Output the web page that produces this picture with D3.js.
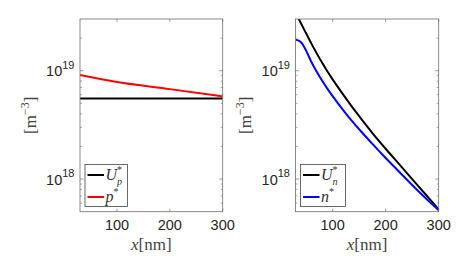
<!DOCTYPE html>
<html>
<head>
<meta charset="utf-8">
<script src="https://cdn.jsdelivr.net/npm/d3@7"></script>
<style>
  body { margin: 0; background: #fff; }
</style>
</head>
<body>
<svg id="chart" width="467" height="256"></svg>
<script>

// x positions (nm) and log10 concentrations
var xLeft = [30, 100, 200, 300];
var upLeft = [18.744, 18.744, 18.744, 18.744];
var pLeft = [18.96, 18.895, 18.83, 18.763];

var xRight = [30, 40, 50, 60, 70, 80, 90, 100, 125, 150, 175, 200, 225, 250, 275, 300];
var unRight = [19.54, 19.44, 19.345, 19.25, 19.16, 19.075, 18.995, 18.92, 18.745, 18.58, 18.425, 18.28, 18.14, 18.0, 17.86, 17.72];
var nRight = [19.287, 19.265, 19.185, 19.08, 18.99, 18.91, 18.835, 18.765, 18.605, 18.46, 18.325, 18.195, 18.07, 17.945, 17.825, 17.713];

var xTicks = [100, 200, 300];
var yMajor = [1e18, 1e19];
var yExp = ["18", "19"];

var svg = d3.select("#chart");
var frameColor = "#6e6e6e";
var textColor = "#262626";
var sansFont = "'Liberation Sans', Arial, sans-serif";
var serifFont = "'Liberation Serif', 'Times New Roman', serif";

function drawPanel(opt) {
	var x = d3.scaleLinear().domain([30, 300]).range([opt.left, opt.right]);
	var y = d3.scaleLog().domain([5e17, 3e19]).range([opt.bottom, opt.top]);

	var g = svg.append("g");
	var clipId = "clip" + opt.id;
	g.append("clipPath").attr("id", clipId)
		.append("rect")
		.attr("x", opt.left).attr("y", opt.top)
		.attr("width", opt.right - opt.left).attr("height", opt.bottom - opt.top);

	// minor ticks on the log axis, both sides
	var minor = [];
	[17, 18, 19].forEach(function(e) {
		for (var k = 2; k <= 9; k++) {
			var v = k * Math.pow(10, e);
			if (v > 5e17 && v < 3e19) minor.push(v);
		}
	});
	minor.forEach(function(v) {
		g.append("line").attr("x1", opt.left).attr("x2", opt.left + 2)
			.attr("y1", y(v)).attr("y2", y(v)).attr("stroke", frameColor).attr("stroke-width", 0.6);
		g.append("line").attr("x1", opt.right).attr("x2", opt.right - 2)
			.attr("y1", y(v)).attr("y2", y(v)).attr("stroke", frameColor).attr("stroke-width", 0.6);
	});
	yMajor.forEach(function(v, i) {
		g.append("line").attr("x1", opt.left).attr("x2", opt.left + 3.5)
			.attr("y1", y(v)).attr("y2", y(v)).attr("stroke", frameColor).attr("stroke-width", 0.7);
		g.append("line").attr("x1", opt.right).attr("x2", opt.right - 3.5)
			.attr("y1", y(v)).attr("y2", y(v)).attr("stroke", frameColor).attr("stroke-width", 0.7);
		var t = g.append("text")
			.attr("x", opt.left - 5.5).attr("y", y(v) + 5.6)
			.attr("text-anchor", "end")
			.attr("font-family", sansFont).attr("fill", textColor)
			.style("font-size", "14.5px");
		t.append("tspan").text("10");
		t.append("tspan").attr("dy", -7.3).style("font-size", "11px").text(yExp[i]);
	});

	xTicks.forEach(function(v) {
		g.append("line").attr("x1", x(v)).attr("x2", x(v))
			.attr("y1", opt.bottom).attr("y2", opt.bottom - 3).attr("stroke", frameColor).attr("stroke-width", 0.7);
		g.append("line").attr("x1", x(v)).attr("x2", x(v))
			.attr("y1", opt.top).attr("y2", opt.top + 3).attr("stroke", frameColor).attr("stroke-width", 0.7);
		g.append("text")
			.attr("x", x(v)).attr("y", opt.bottom + 18.3)
			.attr("text-anchor", "middle")
			.attr("font-family", sansFont).attr("fill", textColor)
			.style("font-size", "14.5px")
			.text(v);
	});

	var line = d3.line()
		.x(function(d) { return x(d[0]); })
		.y(function(d) { return y(Math.pow(10, d[1])); })
		.curve(d3.curveMonotoneX);

	var lines = g.append("g").attr("clip-path", "url(#" + clipId + ")");
	opt.series.forEach(function(s) {
		lines.append("path")
			.datum(s.xs.map(function(xv, i) { return [xv, s.ys[i]]; }))
			.attr("d", line)
			.attr("fill", "none")
			.attr("stroke", s.color)
			.attr("stroke-width", 2);
	});

	// frame
	g.append("rect")
		.attr("x", opt.left).attr("y", opt.top)
		.attr("width", opt.right - opt.left).attr("height", opt.bottom - opt.top)
		.attr("fill", "none").attr("stroke", frameColor).attr("stroke-width", 0.8);

	// y label
	var yl = g.append("text")
		.attr("transform", "translate(" + opt.ylabelX + "," + ((opt.top + opt.bottom) / 2) + ") rotate(-90)")
		.attr("text-anchor", "middle")
		.attr("font-family", serifFont).attr("fill", "#444")
		.style("font-size", "17px");
	yl.append("tspan").text("[m");
	yl.append("tspan").attr("dy", -7).style("font-size", "12px").text("\u22123");
	yl.append("tspan").attr("dy", 7).text("]");

	// x label
	var xl = g.append("text")
		.attr("x", (opt.left + opt.right) / 2).attr("y", opt.bottom + 38)
		.attr("text-anchor", "middle")
		.attr("font-family", serifFont).attr("fill", "#444")
		.style("font-size", "17px");
	xl.append("tspan").style("font-style", "italic").text("x");
	xl.append("tspan").text("[nm]");

	// legend
	var lx = opt.left + 5, ly = 164.5;
	g.append("rect").attr("x", lx).attr("y", ly).attr("width", opt.legendW).attr("height", 42)
		.attr("fill", "#fff").attr("stroke", "#444").attr("stroke-width", 0.8);
	opt.series.forEach(function(s, i) {
		var yy = ly + 10.5 + i * 22;
		g.append("line").attr("x1", lx + 2.5).attr("x2", lx + 19)
			.attr("y1", yy).attr("y2", yy).attr("stroke", s.color).attr("stroke-width", 2);
		var t = g.append("text")
			.attr("x", lx + 20.5).attr("y", yy + 5)
			.attr("font-family", serifFont).attr("fill", "#333")
			.style("font-size", "16px");
		t.append("tspan").style("font-style", "italic").text(s.sym);
		t.append("tspan").attr("dy", -7).style("font-size", "10px").text("*");
		if (s.sub) {
			t.append("tspan").attr("dx", -5).attr("dy", 12).style("font-size", "10px").style("font-style", "italic").text(s.sub);
		}
	});
}

drawPanel({
	id: "L", left: 80, right: 222.7, top: 19, bottom: 211.7, ylabelX: 36, legendW: 42.5,
	series: [
		{ xs: xLeft, ys: upLeft, color: "#000000", sym: "U", sub: "p" },
		{ xs: xLeft, ys: pLeft, color: "#ff0000", sym: "p", sub: null }
	]
});

drawPanel({
	id: "R", left: 295.5, right: 438.7, top: 19, bottom: 211.7, ylabelX: 251, legendW: 45,
	series: [
		{ xs: xRight, ys: unRight, color: "#000000", sym: "U", sub: "n" },
		{ xs: xRight, ys: nRight, color: "#0000ff", sym: "n", sub: null }
	]
});

</script>
</body>
</html>
